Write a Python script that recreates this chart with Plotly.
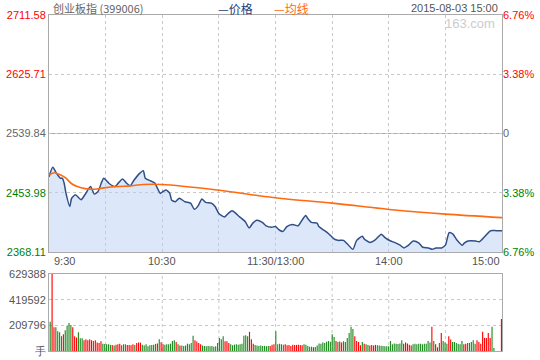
import plotly.graph_objects as go

# ---------------- data ----------------
price_minutes = [0, 2, 4, 6, 7, 8, 9, 11, 12, 14, 17, 19, 22, 24, 26, 28, 29, 32, 35, 37,
                 39, 41, 43, 45, 48, 50, 51, 54, 56, 59, 60, 62, 64, 65, 67, 69, 72, 75, 77, 79,
                 81, 83, 86, 88, 90, 93, 95, 97, 99, 101, 104, 106, 108, 110, 113, 115, 118, 120,
                 122, 124, 126, 129, 132, 134, 136, 137, 139, 142, 143, 146, 148, 151, 153, 156,
                 158, 161, 163, 166, 167, 170, 173, 176, 178, 181, 183, 186, 188, 190, 193, 196,
                 198, 201, 203, 205, 208, 210, 212, 214, 216, 219, 220, 222, 226, 228, 231, 234,
                 237, 240]
price_values = [2477, 2491, 2482, 2475, 2475, 2468, 2453, 2434, 2446, 2451, 2444, 2451, 2463, 2452,
                2456, 2470, 2475, 2467, 2463, 2469, 2474, 2468, 2464, 2472, 2482, 2486, 2475, 2471,
                2468, 2453, 2455, 2458, 2453, 2443, 2441, 2446, 2441, 2439, 2430, 2435, 2445, 2440,
                2439, 2434, 2424, 2419, 2424, 2428, 2424, 2419, 2412, 2403, 2410, 2414, 2411, 2406,
                2404, 2405, 2400, 2398, 2405, 2408, 2406, 2414, 2421, 2417, 2411, 2410, 2405, 2399,
                2395, 2387, 2385, 2385, 2380, 2372, 2385, 2391, 2387, 2382, 2386, 2394, 2389, 2384,
                2382, 2378, 2374, 2377, 2384, 2381, 2375, 2374, 2372, 2374, 2374, 2378, 2396, 2394,
                2386, 2378, 2381, 2384, 2384, 2383, 2391, 2399, 2399, 2399]

avg_minutes = [0, 3, 6, 9, 12, 15, 19, 24, 29, 36, 43, 50, 60, 89, 122, 150, 183, 210, 240]
avg_values = [2480, 2483, 2480, 2475, 2467, 2463, 2460, 2459, 2461, 2463, 2464, 2466, 2466,
              2458, 2446, 2439, 2429, 2423, 2418]

# one bar per minute, 09:30 .. 15:00 (thousand lots)
volume_k = [239, 629, 195, 195, 162, 154, 121, 137, 170, 206,
            228, 212, 195, 121, 110, 154, 104, 104, 88, 96,
            88, 96, 88, 82, 88, 70, 65, 80, 60, 58,
            55, 55, 52, 50, 45, 52, 55, 60, 48, 55,
            55, 50, 50, 48, 55, 50, 65, 70, 68, 52,
            45, 55, 38, 48, 50, 52, 58, 62, 96, 72,
            55, 52, 55, 55, 60, 82, 88, 74, 55, 45,
            45, 40, 45, 60, 55, 65, 124, 88, 78, 65,
            55, 45, 40, 38, 40, 38, 40, 35, 38, 66,
            107, 96, 121, 80, 80, 65, 55, 48, 52, 55,
            52, 55, 60, 124, 129, 121, 157, 96, 60, 50,
            45, 40, 45, 40, 42, 38, 40, 40, 52, 55,
            162, 55, 60, 55, 52, 55, 47, 50, 40, 52,
            50, 50, 52, 50, 47, 55, 52, 40, 35, 35,
            30, 33, 45, 62, 60, 70, 65, 75, 82, 75,
            137, 115, 82, 74, 77, 70, 80, 74, 107, 148,
            198, 179, 121, 82, 74, 47, 74, 60, 55, 50,
            45, 50, 45, 50, 47, 45, 42, 40, 38, 38,
            38, 82, 55, 62, 60, 58, 62, 88, 60, 70,
            62, 52, 45, 55, 60, 55, 60, 60, 55, 60,
            60, 82, 70, 198, 82, 55, 30, 65, 148, 82,
            70, 60, 121, 95, 74, 74, 65, 60, 55, 82,
            55, 60, 66, 66, 74, 88, 60, 88, 74, 60,
            157, 107, 107, 148, 107, 198, 25, 0, 0, 0,
            261]
volume_dir = ("grrggggrgg" "ggrrrgggrr" "rrrgrrrrgg" "gggrgrrrgg" "grrrrgrrrg"
              "gggggggrgr" "rggggggrgr" "gggggggrrr" "rggggggggg" "gggrrrgggg"
              "ggggggrrrg" "gggggggrrr" "gggggrrrrr" "rrrrrggggg" "rggggggggg"
              "ggrgrrgggg" "ggrrrrgrgg" "rrrrgggggg" "ggggggggrr" "rrrggggggg"
              "gggrgrrgrg" "ggrrgggggg" "rrgggggrrr" "rrrrrggggg" "r")

price_ticks = [2368.11, 2453.98, 2539.84, 2625.71, 2711.58]
price_tick_colors = ["#008000", "#008000", "#666666", "#ff0000", "#ff0000"]
pct_labels = ["6.76%", "3.38%", "0", "3.38%", "6.76%"]
vol_ticks = [0, 209796, 419592, 629388]
vol_labels = ["手", "209796", "419592", "629388"]
time_ticks = [0, 60, 120, 180, 240]
time_labels = ["9:30", "10:30", "11:30/13:00", "14:00", "15:00"]
grid_minutes = [0, 30, 60, 90, 120, 150, 180, 210, 240]

# ---------------- figure ----------------
W, H = 540, 360
ML, MR, MT, MB = 49, 38, 15, 9
PW, PH = W - ML - MR, H - MT - MB


def px_x(px):
    return (px - ML) / PW


def px_y(py):
    return (H - MB - py) / PH


NUM_FONT = "Liberation Sans, Arial, sans-serif"
CJK_FONT = "Noto Sans CJK SC, sans-serif"
GRID = "#c8c8c8"
FRAME = "#aaaaaa"

fig = go.Figure()

fig.add_trace(go.Scatter(
    x=price_minutes, y=price_values, mode="lines",
    line=dict(color="#2f4f86", width=1.5, shape="spline", smoothing=0.6),
    fill="tozeroy", fillcolor="rgba(185,209,245,0.5)",
    xaxis="x", yaxis="y", hoverinfo="skip"))

fig.add_trace(go.Scatter(
    x=avg_minutes, y=avg_values, mode="lines",
    line=dict(color="#ff6a10", width=1.6, shape="spline", smoothing=0.8),
    xaxis="x", yaxis="y2", hoverinfo="skip"))

bar_colors = ["#ff0000" if c == "r" else "#1f8a1f" for c in volume_dir]
fig.add_trace(go.Bar(
    x=list(range(len(volume_k))), y=[v * 1000 for v in volume_k],
    marker=dict(color=bar_colors, line=dict(width=0)), width=0.6,
    xaxis="x2", yaxis="y3", hoverinfo="skip"))

price_ticktext = [f'<span style="color:{c}">{p:.2f}</span>'
                  for p, c in zip(price_ticks, price_tick_colors)]
pct_ticktext = [f'<span style="color:{c}">{t}</span>'
                for t, c in zip(pct_labels, price_tick_colors)]

axis_common = dict(showline=True, linecolor=FRAME, linewidth=1, mirror=True,
                   zeroline=False, ticks="", fixedrange=True, automargin=False)

fig.update_layout(
    width=W, height=H,
    margin=dict(l=ML, r=MR, t=MT, b=MB, pad=0, autoexpand=False),
    paper_bgcolor="white", plot_bgcolor="white",
    showlegend=False,
    xaxis=dict(domain=[0, 1], anchor="y", range=[0, 240], tickvals=grid_minutes,
               showticklabels=False, showgrid=True, gridcolor=GRID, griddash="3px,3px",
               gridwidth=1, **axis_common),
    yaxis=dict(domain=[px_y(252), 1], anchor="x", range=[price_ticks[0], price_ticks[-1]],
               tickvals=price_ticks, ticktext=price_ticktext, showgrid=True,
               gridcolor=GRID, griddash="3px,3px",
               tickfont=dict(family=NUM_FONT, size=11, color="#666666"), **axis_common),
    yaxis2=dict(overlaying="y", side="right", anchor="x",
                range=[price_ticks[0], price_ticks[-1]], tickvals=price_ticks,
                ticktext=pct_ticktext, showgrid=False, showline=False, zeroline=False,
                ticks="", automargin=False, fixedrange=True,
                tickfont=dict(family=NUM_FONT, size=11, color="#666666")),
    xaxis2=dict(domain=[0, 1], anchor="y3", range=[-0.64, 240.3], showticklabels=False,
                showgrid=False, **axis_common),
    yaxis3=dict(domain=[0, px_y(274)], anchor="x2", range=[0, vol_ticks[-1]],
                tickvals=vol_ticks, ticktext=vol_labels, showgrid=True, gridcolor=GRID,
                griddash="3px,3px",
                tickfont=dict(family=NUM_FONT, size=11, color="#555555"), **axis_common),
)

# solid zero (previous close) line
fig.add_shape(type="line", xref="x domain", x0=0, x1=1, yref="y", y0=price_ticks[2],
              y1=price_ticks[2], line=dict(color=FRAME, width=1), layer="below")

# vertical grid in volume panel, aligned with the time axis
for t in grid_minutes[1:-1]:
    fig.add_shape(type="line", xref="x", x0=t, x1=t, yref="y3 domain", y0=0, y1=1,
                  line=dict(color=GRID, width=1, dash="3px,3px"), layer="below")

# time labels
anchors = ["left", "center", "center", "center", "right"]
for t, lab, a in zip(time_ticks, time_labels, anchors):
    fig.add_annotation(x=t, xref="x", y=0, yref="y domain", text=lab, showarrow=False,
                       xanchor=a, yanchor="top", xshift=3 if a == "left" else 0, yshift=-1,
                       font=dict(family=NUM_FONT, size=11, color="#555555"))

# header
fig.add_annotation(x=px_x(51), xref="paper", y=px_y(8), yref="paper",
                   text="创业板指 (399006)", showarrow=False, xanchor="left", yanchor="middle",
                   font=dict(family=CJK_FONT, size=11, color="#666666"))
fig.add_annotation(x=px_x(235), xref="paper", y=px_y(8), yref="paper",
                   text="—价格", showarrow=False, xanchor="center", yanchor="middle",
                   font=dict(family=CJK_FONT, size=12, color="#1f3d7a"))
fig.add_annotation(x=px_x(291), xref="paper", y=px_y(8), yref="paper",
                   text="—均线", showarrow=False, xanchor="center", yanchor="middle",
                   font=dict(family=CJK_FONT, size=12, color="#ff6a10"))
fig.add_annotation(x=px_x(500), xref="paper", y=px_y(8), yref="paper",
                   text="2015-08-03 15:00", showarrow=False, xanchor="right", yanchor="middle",
                   font=dict(family=NUM_FONT, size=11, color="#555555"))
fig.add_annotation(x=px_x(497), xref="paper", y=px_y(23), yref="paper",
                   text="163.com", showarrow=False, xanchor="right", yanchor="middle",
                   font=dict(family=NUM_FONT, size=13, color="#cccccc"))

fig.write_html("out.html", config={"displayModeBar": False, "staticPlot": True},
               post_script="document.body.style.margin='0';")
